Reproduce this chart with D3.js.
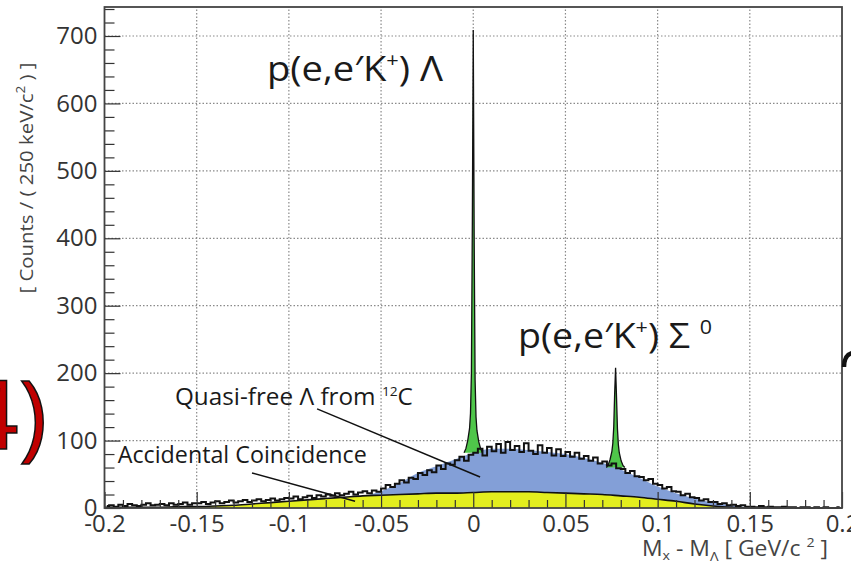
<!DOCTYPE html>
<html>
<head>
<meta charset="utf-8">
<script src="https://cdn.jsdelivr.net/npm/d3@7/dist/d3.min.js"></script>
<style>
body { margin: 0; background: #fff; }
text { font-family: "Open Sans", "Noto Sans", sans-serif; }
</style>
</head>
<body>
<script>
// axis ticks
var xTicks = [-0.2, -0.15, -0.1, -0.05, 0, 0.05, 0.1, 0.15, 0.2];
var xTickLabels = ["-0.2", "-0.15", "-0.1", "-0.05", "0", "0.05", "0.1", "0.15", "0.2"];
var yTicks = [0, 100, 200, 300, 400, 500, 600, 700];

// data histogram: 2.5 MeV bins starting at -0.2 GeV
var dataStart = -0.2;
var dataBin = 0.0025;
var dataCounts = [
  3, 4, 2, 5, 3, 6, 4, 3, 5, 7, 4, 5, 6, 4, 7, 5, 6, 8, 5, 7,
  7, 9, 6, 8, 10, 7, 9, 11, 8, 10, 12, 9, 11, 13, 10, 12, 14, 11, 13, 15,
  14, 17, 13, 16, 18, 15, 19, 17, 20, 18, 22, 19, 21, 24, 20, 23, 25, 22, 26, 24,
  29, 34, 31, 36, 41, 38, 45, 43, 52, 49, 56, 53, 63, 58, 66, 64, 71, 76, 70, 79,
  82, 88, 78, 91, 84, 95, 82, 98, 86, 92, 83, 96, 85, 80, 93, 82, 89, 78, 87, 77,
  83, 76, 82, 73, 77, 70, 75, 66, 69, 63, 66, 59, 58, 52, 55, 47, 46, 41, 43, 36,
  34, 29, 31, 25, 24, 19, 21, 16, 15, 11, 13, 9, 9, 6, 7, 4, 5, 3, 4, 2,
  2, 1, 3, 1, 2, 1, 1, 2, 1, 1, 0, 1, 1, 0, 1, 0, 1, 0, 0, 1
];

// components (counts), sampled every 10 MeV
var compX = [-0.2, -0.19, -0.18, -0.17, -0.16, -0.15, -0.14, -0.13, -0.12, -0.11,
  -0.1, -0.09, -0.08, -0.07, -0.06, -0.05, -0.04, -0.03, -0.02, -0.01,
  0, 0.01, 0.02, 0.03, 0.04, 0.05, 0.06, 0.07, 0.08, 0.09,
  0.1, 0.11, 0.12, 0.13, 0.14, 0.15, 0.16, 0.17, 0.18, 0.19, 0.2];
var accidental = [1, 1, 1, 1, 2, 2, 3, 4, 6, 8,
  10, 12, 14, 16, 18, 19, 20, 21, 22, 22,
  23, 24, 24, 24, 23, 22, 21, 20, 18, 16,
  13, 10, 6, 3, 1, 0, 0, 0, 0, 0, 0];
var quasiFree = [0, 0, 0, 0, 0, 0, 0, 0, 0, 0,
  0, 0, 0, 0, 0, 6, 17, 31, 40, 50,
  59, 64, 64, 62, 60, 58, 53, 47, 39, 29,
  19, 12, 8, 5, 3, 1, 0, 0, 0, 0, 0];

// peaks: offsets from peak centre (GeV) and total counts
var peakOffsets = [-0.005, -0.004, -0.003, -0.002, -0.0015, -0.001, -0.0005, 0,
  0.0005, 0.001, 0.0015, 0.002, 0.003, 0.004, 0.005];
var lambdaCentre = 0.0, lambdaBase = 82;
var lambdaTop = [82, 88, 100, 118, 140, 200, 420, 709, 400, 190, 135, 115, 98, 88, 82];
var sigmaCentre = 0.0772, sigmaBase = 60;
var sigmaTop = [60, 64, 72, 84, 96, 120, 170, 208, 165, 118, 94, 82, 70, 63, 60];

var width = 851, height = 564;
var x = d3.scaleLinear().domain([-0.2, 0.2]).range([104.5, 842]);
var y = d3.scaleLinear().domain([0, 743]).range([508, 7]);

var svg = d3.select("body").append("svg")
    .attr("width", width)
    .attr("height", height);

// grid
var grid = svg.append("g");
grid.selectAll(null).data(xTicks.slice(1, -1)).enter().append("line")
    .attr("x1", function (d) { return x(d); })
    .attr("x2", function (d) { return x(d); })
    .attr("y1", y(0)).attr("y2", y(743))
    .style("stroke", "#8a8a8a").style("stroke-width", 1.2)
    .style("stroke-dasharray", "1.5,2");
grid.selectAll(null).data(yTicks.slice(1)).enter().append("line")
    .attr("x1", x(-0.2)).attr("x2", x(0.2))
    .attr("y1", function (d) { return y(d); })
    .attr("y2", function (d) { return y(d); })
    .style("stroke", "#8a8a8a").style("stroke-width", 1.2)
    .style("stroke-dasharray", "1.5,2");

var comp = compX.map(function (d, i) {
    return { x: d, acc: accidental[i], qf: quasiFree[i] };
});

// accidental coincidence (yellow)
svg.append("path").datum(comp)
    .attr("d", d3.area().curve(d3.curveMonotoneX)
        .x(function (d) { return x(d.x); })
        .y0(y(0))
        .y1(function (d) { return y(d.acc); }))
    .style("fill", "#e3ee1e");

// quasi-free (blue) stacked on top
svg.append("path").datum(comp)
    .attr("d", d3.area().curve(d3.curveMonotoneX)
        .x(function (d) { return x(d.x); })
        .y0(function (d) { return y(d.acc); })
        .y1(function (d) { return y(d.acc + d.qf); }))
    .style("fill", "#839fd7");

// green peaks
function peak(centre, base, tops) {
    var pts = peakOffsets.map(function (o, i) { return { x: centre + o, top: tops[i] }; });
    svg.append("path").datum(pts)
        .attr("d", d3.area()
            .x(function (d) { return x(d.x); })
            .y0(y(base))
            .y1(function (d) { return y(d.top); }))
        .style("fill", "#4fc64a");
    svg.append("path").datum(pts)
        .attr("d", d3.line()
            .x(function (d) { return x(d.x); })
            .y(function (d) { return y(d.top); }))
        .style("fill", "none").style("stroke", "#111").style("stroke-width", 1.3);
}
peak(lambdaCentre, lambdaBase, lambdaTop);
peak(sigmaCentre, sigmaBase, sigmaTop);

// data histogram (black step line)
var hist = dataCounts.map(function (c, i) { return { x: dataStart + dataBin * (i + 0.5), c: c }; });
svg.append("path").datum(hist)
    .attr("d", d3.line().curve(d3.curveStep)
        .x(function (d) { return x(d.x); })
        .y(function (d) { return y(d.c); }))
    .style("fill", "none").style("stroke", "#111").style("stroke-width", 2);

// accidental outline
svg.append("path").datum(comp)
    .attr("d", d3.line().curve(d3.curveMonotoneX)
        .x(function (d) { return x(d.x); })
        .y(function (d) { return y(d.acc); }))
    .style("fill", "none").style("stroke", "#111").style("stroke-width", 1.6);

// axes
var minorX = d3.range(-0.19, 0.2, 0.01).filter(function (d) { return Math.abs(d * 20 - Math.round(d * 20)) > 1e-6; });
var minorY = d3.range(20, 743, 20).filter(function (d) { return d % 100 !== 0; });

svg.append("g").attr("transform", "translate(0," + y(0) + ")")
    .call(d3.axisBottom(x).tickValues(minorX).tickSize(-8).tickFormat(""))
    .call(function (g) { g.select(".domain").remove(); });
svg.append("g").attr("transform", "translate(" + x(-0.2) + ",0)")
    .call(d3.axisLeft(y).tickValues(minorY).tickSize(-10).tickFormat(""))
    .call(function (g) { g.select(".domain").remove(); });

var xAxis = svg.append("g").attr("transform", "translate(0," + y(0) + ")")
    .call(d3.axisBottom(x).tickValues(xTicks).tickSize(-16).tickPadding(7)
        .tickFormat(function (d, i) { return xTickLabels[i]; }));
var yAxis = svg.append("g").attr("transform", "translate(" + x(-0.2) + ",0)")
    .call(d3.axisLeft(y).tickValues(yTicks).tickSize(-16).tickPadding(7));
[xAxis, yAxis].forEach(function (g) {
    g.select(".domain").remove();
    g.selectAll("text").style("font-size", "24px").style("fill", "#333")
        .style("font-family", "'Open Sans', sans-serif");
});
svg.selectAll(".tick line").style("stroke", "#333").style("stroke-width", 1.2);

// frame
svg.append("rect")
    .attr("x", x(-0.2)).attr("y", y(743))
    .attr("width", x(0.2) - x(-0.2)).attr("height", y(0) - y(743))
    .style("fill", "none").style("stroke", "#444").style("stroke-width", 1.8);

// axis titles
var yt = svg.append("text")
    .attr("transform", "translate(33,178) rotate(-90)")
    .attr("text-anchor", "middle")
    .attr("textLength", 231).attr("lengthAdjust", "spacingAndGlyphs")
    .style("font-size", "18px").style("fill", "#444");
yt.append("tspan").text("[ Counts / ( 250 keV/c");
yt.append("tspan").attr("dy", -8).style("font-size", "12px").text("2");
yt.append("tspan").attr("dy", 8).text(" ) ]");

var xt = svg.append("text")
    .attr("x", 642).attr("y", 556)
    .attr("textLength", 186).attr("lengthAdjust", "spacingAndGlyphs")
    .style("font-size", "21px").style("fill", "#444");
xt.append("tspan").text("M");
xt.append("tspan").attr("dy", 4).style("font-size", "13px").text("x");
xt.append("tspan").attr("dy", -4).text(" - M");
xt.append("tspan").attr("dy", 5).style("font-size", "13px").text("Λ");
xt.append("tspan").attr("dy", -5).text(" [ GeV/c  ");
xt.append("tspan").attr("dy", -9).style("font-size", "13px").text("2");
xt.append("tspan").attr("dy", 9).text(" ]");

// peak labels
var lLab = svg.append("text")
    .attr("x", x(-0.1119)).attr("y", y(633))
    .attr("textLength", 176).attr("lengthAdjust", "spacingAndGlyphs")
    .style("font-size", "35px").style("fill", "#1a1a1a");
lLab.append("tspan").text("p(e,e′K");
lLab.append("tspan").attr("dy", -14).style("font-size", "20px").text("+");
lLab.append("tspan").attr("dy", 14).text(") Λ");

var sLab = svg.append("text")
    .attr("x", x(0.0243)).attr("y", y(237))
    .attr("textLength", 194).attr("lengthAdjust", "spacingAndGlyphs")
    .style("font-size", "35px").style("fill", "#1a1a1a");
sLab.append("tspan").text("p(e,e′K");
sLab.append("tspan").attr("dy", -14).style("font-size", "20px").text("+");
sLab.append("tspan").attr("dy", 14).text(") Σ ");
sLab.append("tspan").attr("dy", -14).style("font-size", "20px").text("0");

var qLab = svg.append("text")
    .attr("x", x(-0.1618)).attr("y", y(153))
    .attr("textLength", 238).attr("lengthAdjust", "spacingAndGlyphs")
    .style("font-size", "23px").style("fill", "#1a1a1a");
qLab.append("tspan").text("Quasi-free Λ from ");
qLab.append("tspan").attr("dy", -9).style("font-size", "13px").text("12");
qLab.append("tspan").attr("dy", 9).text("C");

svg.append("text")
    .attr("x", x(-0.1928)).attr("y", y(67))
    .attr("textLength", 249).attr("lengthAdjust", "spacingAndGlyphs")
    .style("font-size", "23px").style("fill", "#1a1a1a")
    .text("Accidental Coincidence");

// leader lines
svg.append("line")
    .attr("x1", x(-0.0847)).attr("y1", y(147))
    .attr("x2", x(0.0037)).attr("y2", y(46))
    .style("stroke", "#111").style("stroke-width", 1.5);
svg.append("line")
    .attr("x1", x(-0.12)).attr("y1", y(52))
    .attr("x2", x(-0.0641)).attr("y2", y(10))
    .style("stroke", "#111").style("stroke-width", 1.5);

// slide decorations cut by the page edges
svg.append("text")
    .attr("x", 47).attr("y", 449)
    .attr("text-anchor", "end")
    .style("font-size", "96px").style("fill", "#c00000")
    .style("stroke", "#111").style("stroke-width", 1.5)
    .text("4)");
var hook = d3.path();
hook.moveTo(844, 367);
hook.quadraticCurveTo(844, 355, 852, 353);
svg.append("path").attr("d", hook.toString())
    .style("fill", "none").style("stroke", "#111").style("stroke-width", 4.5);
</script>
</body>
</html>
